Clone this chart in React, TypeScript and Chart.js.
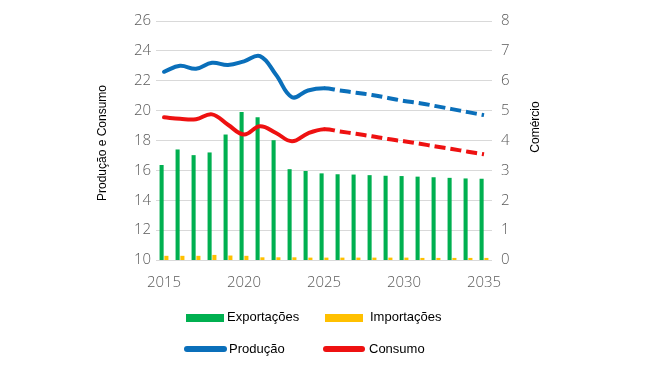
import React, { useEffect, useRef } from "react";
import { Chart, registerables } from "chart.js";

Chart.register(...registerables);

const years = [
  "2015", "2016", "2017", "2018", "2019", "2020", "2021", "2022", "2023", "2024", "2025",
  "2026", "2027", "2028", "2029", "2030", "2031", "2032", "2033", "2034", "2035",
];
const producao = [22.6, 23.0, 22.8, 23.2, 23.05, 23.3, 23.65, 22.4, 20.9, 21.35, 21.5, 21.35, 21.2, 21.05, 20.85, 20.65, 20.5, 20.3, 20.1, 19.9, 19.7];
const consumo = [19.55, 19.45, 19.42, 19.75, 19.05, 18.4, 18.95, 18.5, 17.95, 18.48, 18.75, 18.6, 18.45, 18.28, 18.1, 17.95, 17.78, 17.6, 17.43, 17.25, 17.08];
const exportacoes = [3.18, 3.7, 3.51, 3.6, 4.2, 4.95, 4.78, 4.01, 3.04, 2.98, 2.9, 2.87, 2.86, 2.84, 2.82, 2.81, 2.79, 2.77, 2.75, 2.73, 2.72];
const importacoes = [0.14, 0.14, 0.14, 0.17, 0.15, 0.14, 0.09, 0.09, 0.09, 0.08, 0.08, 0.08, 0.08, 0.08, 0.08, 0.08, 0.07, 0.07, 0.07, 0.07, 0.07];
const leftTicks = [10, 12, 14, 16, 18, 20, 22, 24, 26];
const rightTicks = [0, 1, 2, 3, 4, 5, 6, 7, 8];
const forecastStart = 10;

const GREEN = "#00b050";
const YELLOW = "#ffc000";
const BLUE = "#0a6fba";
const RED = "#ee1111";
const TICK_FONT = { family: "'Open Sans', sans-serif", size: 15, weight: "300" as any };
const TICK_COLOR = "#5a5a5a";

const titlesPlugin = {
  id: "axisTitles",
  afterDraw(chart: any) {
    const ctx = chart.ctx;
    ctx.save();
    ctx.fillStyle = "#000";
    ctx.font = "12px 'Liberation Sans', Arial, sans-serif";
    ctx.textAlign = "center";
    ctx.textBaseline = "middle";
    ctx.translate(103, 143);
    ctx.rotate(-Math.PI / 2);
    ctx.fillText("Produção e Consumo", 0, 0);
    ctx.restore();
    ctx.save();
    ctx.fillStyle = "#000";
    ctx.font = "12px 'Liberation Sans', Arial, sans-serif";
    ctx.textAlign = "center";
    ctx.textBaseline = "middle";
    ctx.translate(536, 127);
    ctx.rotate(-Math.PI / 2);
    ctx.fillText("Comércio", 0, 0);
    ctx.restore();
  },
};

const dashSeg = {
  borderDash: (c: any) => (c.p0DataIndex >= forecastStart ? [11, 5] : undefined),
  borderCapStyle: (c: any) => (c.p0DataIndex >= forecastStart ? "butt" : undefined),
};

export default function App() {
  const ref = useRef<HTMLCanvasElement>(null);
  useEffect(() => {
    if (!ref.current) return;
    const chart = new Chart(ref.current, {
      type: "bar",
      data: {
        labels: years,
        datasets: [
          {
            type: "line",
            label: "Produção",
            data: producao,
            yAxisID: "y",
            borderColor: BLUE,
            borderWidth: 4,
            borderCapStyle: "round",
            borderJoinStyle: "round",
            tension: 0.4,
            pointRadius: 0,
            fill: false,
            order: 0,
            segment: dashSeg,
          } as any,
          {
            type: "line",
            label: "Consumo",
            data: consumo,
            yAxisID: "y",
            borderColor: RED,
            borderWidth: 4,
            borderCapStyle: "round",
            borderJoinStyle: "round",
            tension: 0.4,
            pointRadius: 0,
            fill: false,
            order: 0,
            segment: dashSeg,
          } as any,
          {
            type: "bar",
            label: "Exportações",
            data: exportacoes,
            yAxisID: "y1",
            backgroundColor: GREEN,
            categoryPercentage: 0.6,
            barPercentage: 0.85,
            order: 1,
          },
          {
            type: "bar",
            label: "Importações",
            data: importacoes,
            yAxisID: "y1",
            backgroundColor: YELLOW,
            categoryPercentage: 0.6,
            barPercentage: 0.85,
            order: 1,
          },
        ],
      },
      options: {
        responsive: false,
        animation: false,
        layout: { padding: { top: 21, left: 0, right: 0, bottom: 0 } },
        plugins: { legend: { display: false }, tooltip: { enabled: false } },
        scales: {
          x: {
            type: "category",
            offset: true,
            grid: { display: false },
            border: { display: false },
            ticks: {
              autoSkip: false,
              maxRotation: 0,
              padding: 6,
              font: TICK_FONT,
              color: TICK_COLOR,
              callback: (_v: any, i: number) => (i % 5 === 0 ? years[i] : ""),
            },
            afterFit: (s: any) => {
              s.height = 106;
            },
          },
          y: {
            position: "left",
            min: leftTicks[0],
            max: leftTicks[leftTicks.length - 1],
            afterBuildTicks: (s: any) => {
              s.ticks = leftTicks.map((v) => ({ value: v }));
            },
            grid: { color: "#d9d9d9", lineWidth: 1, drawTicks: false },
            border: { display: false },
            ticks: { padding: 5, font: TICK_FONT, color: TICK_COLOR },
            afterFit: (s: any) => {
              s.width = 156;
            },
          },
          y1: {
            position: "right",
            min: rightTicks[0],
            max: rightTicks[rightTicks.length - 1],
            afterBuildTicks: (s: any) => {
              s.ticks = rightTicks.map((v) => ({ value: v }));
            },
            grid: { display: false, drawTicks: false },
            border: { display: false },
            ticks: { padding: 9, font: TICK_FONT, color: TICK_COLOR },
            afterFit: (s: any) => {
              s.width = 158;
            },
          },
        },
      },
      plugins: [titlesPlugin],
    });
    return () => chart.destroy();
  }, []);

  const legendText: React.CSSProperties = {
    position: "absolute",
    fontFamily: "'Liberation Sans', Arial, sans-serif",
    fontSize: 13,
    color: "#000",
    lineHeight: "15px",
    whiteSpace: "nowrap",
  };

  return (
    <div style={{ position: "fixed", left: 0, top: 0, width: 650, height: 366, background: "#fff" }}>
      <canvas ref={ref} width={650} height={366} style={{ display: "block" }} />
      <div style={{ position: "absolute", left: 186, top: 314, width: 38, height: 8, background: GREEN }} />
      <div style={{ ...legendText, left: 227, top: 309 }}>Exportações</div>
      <div style={{ position: "absolute", left: 325, top: 314, width: 38, height: 8, background: YELLOW }} />
      <div style={{ ...legendText, left: 370, top: 309 }}>Importações</div>
      <div style={{ position: "absolute", left: 184, top: 346, width: 43, height: 6, borderRadius: 3, background: BLUE }} />
      <div style={{ ...legendText, left: 229, top: 341 }}>Produção</div>
      <div style={{ position: "absolute", left: 323, top: 346, width: 42, height: 6, borderRadius: 3, background: RED }} />
      <div style={{ ...legendText, left: 369, top: 341 }}>Consumo</div>
    </div>
  );
}
